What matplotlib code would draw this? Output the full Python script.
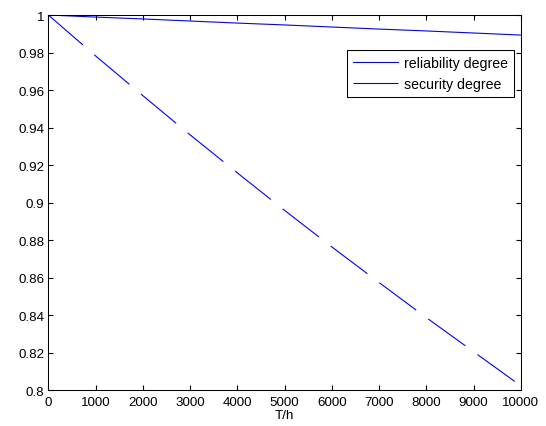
import numpy as np
import matplotlib
matplotlib.use("Agg")
import matplotlib.pyplot as plt
from matplotlib.ticker import FormatStrFormatter

plt.rcParams.update({
    "font.family": ["Liberation Sans", "DejaVu Sans"],
    "font.size": 9.6,
    "xtick.direction": "in",
    "ytick.direction": "in",
    "xtick.top": True,
    "ytick.right": True,
    "xtick.major.size": 3.6,
    "ytick.major.size": 3.6,
    "axes.linewidth": 0.75,
    "lines.scale_dashes": False,
})

# operating time, hours
T = [0, 1000, 2000, 3000, 4000, 5000, 6000, 7000, 8000, 9000, 10000]
reliability = [1.0, 0.9989, 0.9979, 0.9968, 0.9957, 0.9947,
               0.9936, 0.9925, 0.9915, 0.9904, 0.9893]
security = [1.0, 0.9782, 0.9570, 0.9361, 0.9158, 0.8958,
            0.8763, 0.8573, 0.8386, 0.8204, 0.8022]

yticks = [0.8, 0.82, 0.84, 0.86, 0.88, 0.9, 0.92, 0.94, 0.96, 0.98, 1.0]
xticks = T

fig = plt.figure(figsize=(5.46, 4.27), dpi=100)
ax = fig.add_axes([0.0885, 0.0843, 0.8655, 0.8782])

ax.plot(T, reliability, "-", color="b", lw=0.8, label="reliability degree")
ax.plot(T, security, color="b", lw=0.8, dashes=(33, 10.8),
        label="security degree")

ax.set_xlim(0, 10000)
ax.set_ylim(0.8, 1.0)
ax.set_xticks(xticks)
ax.set_yticks(yticks)
ax.yaxis.set_major_formatter(FormatStrFormatter("%g"))
ax.tick_params(axis="x", pad=4)
ax.tick_params(axis="y", pad=3)
ax.set_xlabel("T/h", labelpad=1)

leg = ax.legend(loc="upper right", bbox_to_anchor=(0.986, 0.907),
                fancybox=False, framealpha=1, edgecolor="black",
                fontsize=10.2, handlelength=3.2, handletextpad=0.4,
                borderpad=0.45, labelspacing=0.45, borderaxespad=0)
leg.get_frame().set_linewidth(0.75)

plt.savefig("out.png", dpi=100)
plt.close(fig)
